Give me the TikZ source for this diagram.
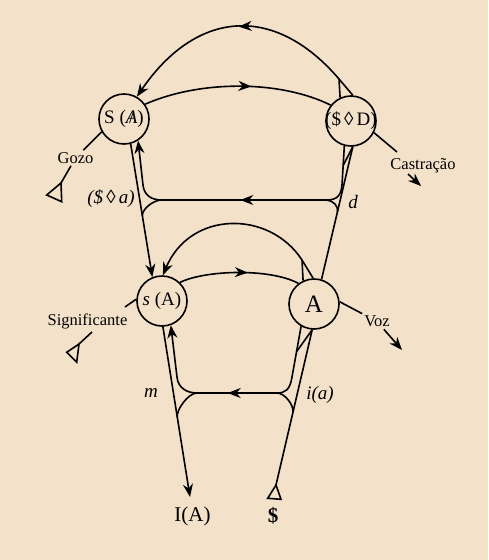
\documentclass[tikz,border=0pt]{standalone}
\usepackage{fontspec}
\setmainfont{Liberation Serif}
\usetikzlibrary{arrows.meta,decorations.markings,calc}
\definecolor{bgc}{RGB}{243,225,201}
\newcommand\slashA{\ooalign{\itshape A\cr\hidewidth/\hidewidth\cr}}
\begin{document}
\begin{tikzpicture}[x=1pt,y=-1pt,line width=1.6pt,
  circ/.style={circle,draw,minimum size=50pt,inner sep=0pt},
  arr/.style={-{Stealth[length=13pt,width=10pt]}},
  midarrow/.style={postaction={decorate},decoration={markings,mark=at position #1 with {\arrow{Stealth[length=13pt,width=10pt]}}}},
  lbl/.style={font=\fontsize{16.5}{18}\selectfont,inner sep=1.5pt},
  ilbl/.style={font=\fontsize{19}{21}\selectfont\itshape,inner sep=1pt},
  nlbl/.style={font=\fontsize{19}{21}\selectfont},
  blbl/.style={font=\fontsize{21}{23}\selectfont}]
\fill[bgc] (0,0) rectangle (488,560);
\useasboundingbox (0,0) rectangle (488,560);

% main nodes
\node[circ,label={[nlbl]center:S (\slashA)}] (Sa) at (124,119) {};
\node[circ,label={[nlbl]center:(\$\,◊\,D)}] (SD) at (351,121) {};
\node[circ,label={[nlbl]center:\textit{s} (A)}] (sA) at (162,301) {};
\node[circ,label={[font=\fontsize{25}{28}\selectfont]center:A}] (A) at (314,304) {};

% helper coordinates
\coordinate (P) at (339,79);
\coordinate (Q) at (302,260);
\coordinate (IAtip) at (190,497);
\coordinate (tS) at (276,485);

% top arc
\draw[arr,midarrow=0.52] (SD.86) -- (P) .. controls (274,3) and (196,10) .. (Sa.60);
\draw (SD.115) -- (P);
% upper arc S(A) -> ($<>D)
\draw[midarrow=0.57] (Sa.35) .. controls (200,80) and (280,80) .. (SD.142);

% straight lines
\draw[arr] (Sa.-75) -- (sA.112);
\draw (SD.274) -- (A.73);
\draw (SD.274) -- ($(SD.255)!0.5!(342,185)$);

% upper H
\draw[arr,midarrow=0.5] (SD.255) -- (342,185) .. controls (341,196) and (337,200) .. (326,200)
  -- (162,200) .. controls (151,200) and (144,195) .. (143,185) -- (Sa.-57);
\draw (326,200) .. controls (333,200) and ($(SD.274)!0.45!(A.73)$) .. ($(SD.274)!0.49!(A.73)$);
\draw (162,200) .. controls (152,200) and ($(Sa.-75)!0.50!(sA.112)$) .. ($(Sa.-75)!0.54!(sA.112)$);

% middle arc A -> s(A)
\draw (A.115) -- (Q);
\draw[arr] (A.92) -- (Q) .. controls (269.3,209.7) and (190,210.4) .. (sA.88);
% arc s(A) -> A
\draw[midarrow=0.57] (sA.46) .. controls (205,270) and (270,268) .. (A.127);

% lower lines
\draw[arr] (sA.-88) -- (IAtip);
\draw (A.-94) -- (tS);
\draw (tS) -- (267.7,498.3) -- (281,499.3) -- cycle;
\draw (A.-94) -- ($(A.-120)!0.5!(292,377)$);

% lower H
\draw[arr,midarrow=0.53] (A.-120) -- (292,377) .. controls (290,390) and (285,393) .. (277,393)
  -- (197,393) .. controls (187,393) and (178,388) .. (177,377) -- (sA.-70);
\draw (277,393) .. controls (285,393) and ($(A.-94)!0.49!(tS)$) .. ($(A.-94)!0.535!(tS)$);
\draw (197,393) .. controls (188,393) and ($(sA.-88)!0.49!(IAtip)$) .. ($(sA.-88)!0.53!(IAtip)$);

% Gozo
\node[lbl] (gozo) at (75.5,158) {Gozo};
\coordinate (gozoTip) at (61,183);
\draw (Sa.210) -- (gozo);
\draw (gozo) -- (gozoTip);
\draw (gozoTip) -- (46.7,195) -- (61.7,201.7) -- cycle;

% Significante
\node[lbl] (sig) at (87.5,321) {Significante};
\coordinate (sig1) at (125,307);
\coordinate (sig2) at (92,332);
\coordinate (sigTip) at (79,344);
\draw (sA.176) -- (sig1);
\draw (sig2) -- (sigTip);
\draw (sigTip) -- (66.7,352.3) -- (76.7,362.3) -- cycle;

% Voz
\node[lbl] (voz) at (377,321.5) {Voz};
\coordinate (vozTip) at (402,350);
\draw (A.5) -- (voz);
\draw[arr] (voz) -- (vozTip);

% Castracao
\node[lbl] (cas) at (423,166) {Castração};
\coordinate (cas1) at (397,152);
\coordinate (cas2) at (408,174);
\coordinate (cas3) at (421,186);
\draw (SD.-27) -- (cas1);
\draw[arr] (cas2) -- (cas3);

% italic labels
\node[ilbl] (lsa) at (111,199) {(\$\,◊\,a)};
\node[ilbl] (ld) at (353,202) {d};
\node[ilbl] (lm) at (151,393) {m};
\node[ilbl] (lia) at (320,395) {i(a)};

% bottom labels
\node[blbl] (IA) at (192.5,516) {I(A)};
\node[blbl] (bS) at (273,516) {\textbf{\$}};
\end{tikzpicture}
\end{document}
